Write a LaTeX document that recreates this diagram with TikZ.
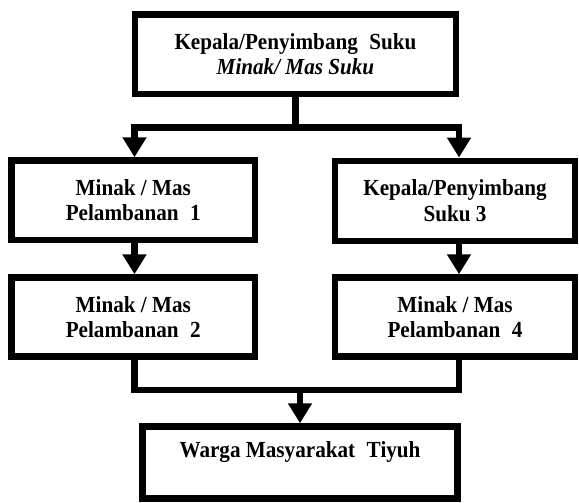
\documentclass[tikz,border=0pt]{standalone}
\usepackage{fontspec}
\setmainfont{Liberation Serif}[FakeStretch=0.92]
\usetikzlibrary{arrows.meta}
\begin{document}
\begin{tikzpicture}[x=1pt,y=-1pt,
  box/.style={draw, line width=6.5pt, inner sep=0pt, align=center,
    font=\fontsize{23}{25.5}\selectfont\bfseries},
  conn/.style={line width=6.5pt, miter limit=10},
  tip/.style={-{Triangle[width=23pt,length=20pt]}}]
\useasboundingbox (0,0) rectangle (579,503);
\fill[white] (0,0) rectangle (579,503);
\node[box, minimum width=321pt, minimum height=79.5pt] (top) at (295.5,54.25)
  {Kepala/Penyimbang\hspace{0.5em}Suku\\\textit{Minak/ Mas Suku}};
\node[box, minimum width=243.5pt, minimum height=79.5pt] (L1) at (133.25,200.25)
  {Minak / Mas\\Pelambanan\hspace{0.5em}1};
\node[box, minimum width=240pt, minimum height=80pt] (R1) at (455,200.75)
  {Kepala/Penyimbang\\Suku 3};
\node[box, minimum width=243.5pt, minimum height=79pt] (L2) at (133.25,317)
  {Minak / Mas\\Pelambanan\hspace{0.5em}2};
\node[box, minimum width=240pt, minimum height=79pt] (R2) at (455,317)
  {Minak / Mas\\Pelambanan\hspace{0.5em}4};
\node[box, minimum width=315pt, minimum height=72pt] (W) at (300,462.5)
  {Warga Masyarakat\hspace{0.5em}Tiyuh\\\mbox{}};
\coordinate (bL) at (134.5,127.5);
\coordinate (bR) at (459,127.5);
\coordinate (jy) at (300,390);
\draw[conn] (top.south) -- (top.south |- bL);
\draw[conn,{Triangle[width=23pt,length=20pt]}-{Triangle[width=23pt,length=20pt]}]
  (L1.north -| bL) -- (bL) -- (bR) -- (R1.north -| bR);
\draw[conn,tip] (L1.south -| bL) -- (L2.north -| bL);
\draw[conn,tip] (R1.south -| bR) -- (R2.north -| bR);
\draw[conn] (L2.south -| bL) -- (bL |- jy) -- (bR |- jy) -- (R2.south -| bR);
\draw[conn,tip] (W.north |- jy) -- (W.north);
\end{tikzpicture}
\end{document}
